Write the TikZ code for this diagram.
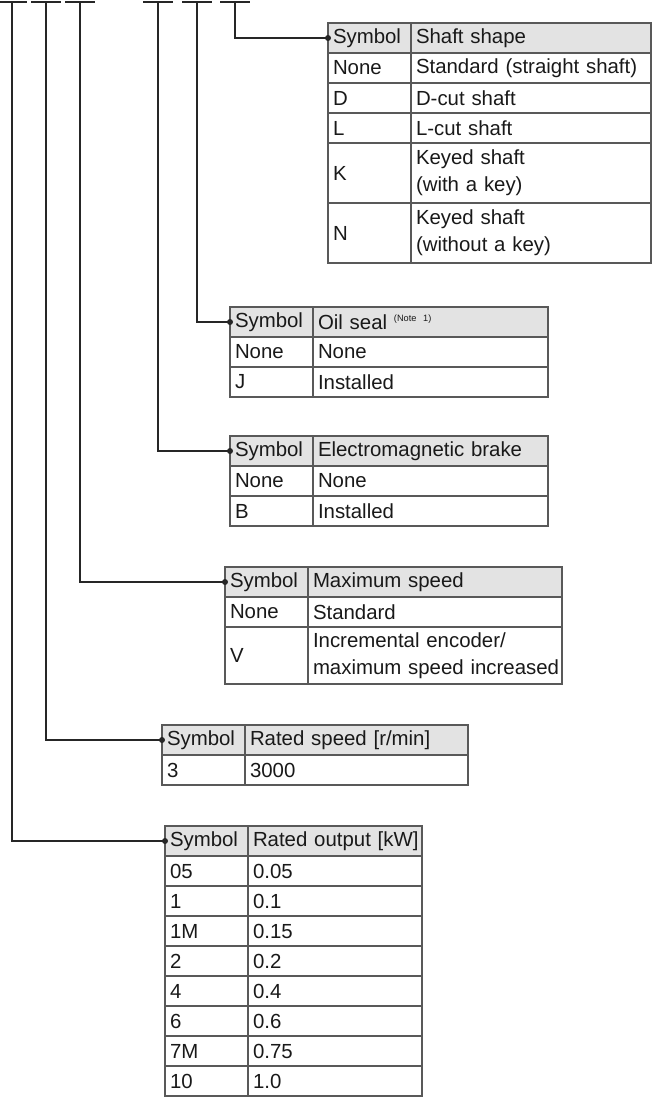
\documentclass[tikz,border=0pt]{standalone}
\usepackage{fontspec}
\setmainfont{Liberation Sans}
\usetikzlibrary{positioning}

\begin{document}
\begin{tikzpicture}[
		x=0.5pt, y=-0.5pt,
		cell/.style={rectangle, draw=black!65, line width=0.6pt, anchor=north west, outer sep=0pt, inner xsep=0pt, inner ysep=0pt, minimum height=15pt, align=left, text=black!90, font=\fontsize{10.2}{13.5}\selectfont, execute at begin node={\leftskip=2.5pt\rightskip=0pt plus 1fil minus 8pt}},
		sym/.style={cell, text width=41.5pt},
		head/.style={fill=black!11},
		tall/.style={minimum height=30pt},
		lead/.style={line width=1pt, black!85},
		dot/.style={circle, fill=black!85, inner sep=0pt, minimum size=3pt}
		]
		\useasboundingbox (0, 0) rectangle (652, 1102);

		% code marks
		\foreach \i/\x in {1/12, 2/46, 3/80, 4/158, 5/197, 6/235} {
			\coordinate (mark \i) at (\x, 2);
			\draw[lead] (\x-15, 2) -- (\x+15, 2);
		}

		% shaft shape
		\node (shaft head) at (328, 23) [sym, head] {Symbol};
		\node (shaft none) [sym, below=0pt of shaft head] {None};
		\node (shaft d) [sym, below=0pt of shaft none] {D};
		\node (shaft l) [sym, below=0pt of shaft d] {L};
		\node (shaft k) [sym, tall, below=0pt of shaft l] {K};
		\node (shaft n) [sym, tall, below=0pt of shaft k] {N};
		\node [cell, head, text width=120pt, right=0pt of shaft head] {Shaft shape};
		\node [cell, text width=120pt, right=0pt of shaft none] {Standard (straight shaft)};
		\node [cell, text width=120pt, right=0pt of shaft d] {D-cut shaft};
		\node [cell, text width=120pt, right=0pt of shaft l] {L-cut shaft};
		\node [cell, tall, text width=120pt, right=0pt of shaft k] {Keyed shaft\\(with a key)};
		\node [cell, tall, text width=120pt, right=0pt of shaft n] {Keyed shaft\\(without a key)};

		% oil seal
		\node (seal head) at (230, 307) [sym, head] {Symbol};
		\node (seal none) [sym, below=0pt of seal head] {None};
		\node (seal j) [sym, below=0pt of seal none] {J};
		\node [cell, head, text width=117.5pt, right=0pt of seal head] {Oil seal {\fontsize{4.6}{5}\selectfont\raisebox{4pt}{(Note 1)}}};
		\node [cell, text width=117.5pt, right=0pt of seal none] {None};
		\node [cell, text width=117.5pt, right=0pt of seal j] {Installed};

		% brake
		\node (brake head) at (230, 436) [sym, head] {Symbol};
		\node (brake none) [sym, below=0pt of brake head] {None};
		\node (brake b) [sym, below=0pt of brake none] {B};
		\node [cell, head, text width=117.5pt, right=0pt of brake head] {Electromagnetic brake};
		\node [cell, text width=117.5pt, right=0pt of brake none] {None};
		\node [cell, text width=117.5pt, right=0pt of brake b] {Installed};

		% maximum speed
		\node (speed head) at (225, 567) [sym, head] {Symbol};
		\node (speed none) [sym, below=0pt of speed head] {None};
		\node (speed v) [sym, tall, minimum height=28.5pt, below=0pt of speed none] {V};
		\node [cell, head, text width=127pt, right=0pt of speed head] {Maximum speed};
		\node [cell, text width=127pt, right=0pt of speed none] {Standard};
		\node [cell, tall, minimum height=28.5pt, text width=127pt, right=0pt of speed v] {Incremental encoder/\\maximum speed increased};

		% rated speed
		\node (rated head) at (162, 725) [sym, head] {Symbol};
		\node (rated 3) [sym, below=0pt of rated head] {3};
		\node [cell, head, text width=111.5pt, right=0pt of rated head] {Rated speed [r/min]};
		\node [cell, text width=111.5pt, right=0pt of rated 3] {3000};

		% rated output
		\node (output head) at (165, 826) [sym, head] {Symbol};
		\node [cell, head, text width=87pt, right=0pt of output head] {Rated output [kW]};
		\foreach \s/\kw [count=\i] in {05/0.05, 1/0.1, 1M/0.15, 2/0.2, 4/0.4, 6/0.6, 7M/0.75, 10/1.0} {
			\node (output sym \i) at (165, 826+30*\i) [sym] {\s};
			\node [cell, text width=87pt, right=0pt of output sym \i] {\kw};
		}

		% leads
		\draw[lead] (mark 6) |- (shaft head.west);
		\draw[lead] (mark 5) |- (seal head.west);
		\draw[lead] (mark 4) |- (brake head.west);
		\draw[lead] (mark 3) |- (speed head.west);
		\draw[lead] (mark 2) |- (rated head.west);
		\draw[lead] (mark 1) |- (output head.west);
		\foreach \t in {shaft, seal, brake, speed, rated, output}
			\node[dot] at (\t\space head.west) {};
	\end{tikzpicture}
\end{document}
